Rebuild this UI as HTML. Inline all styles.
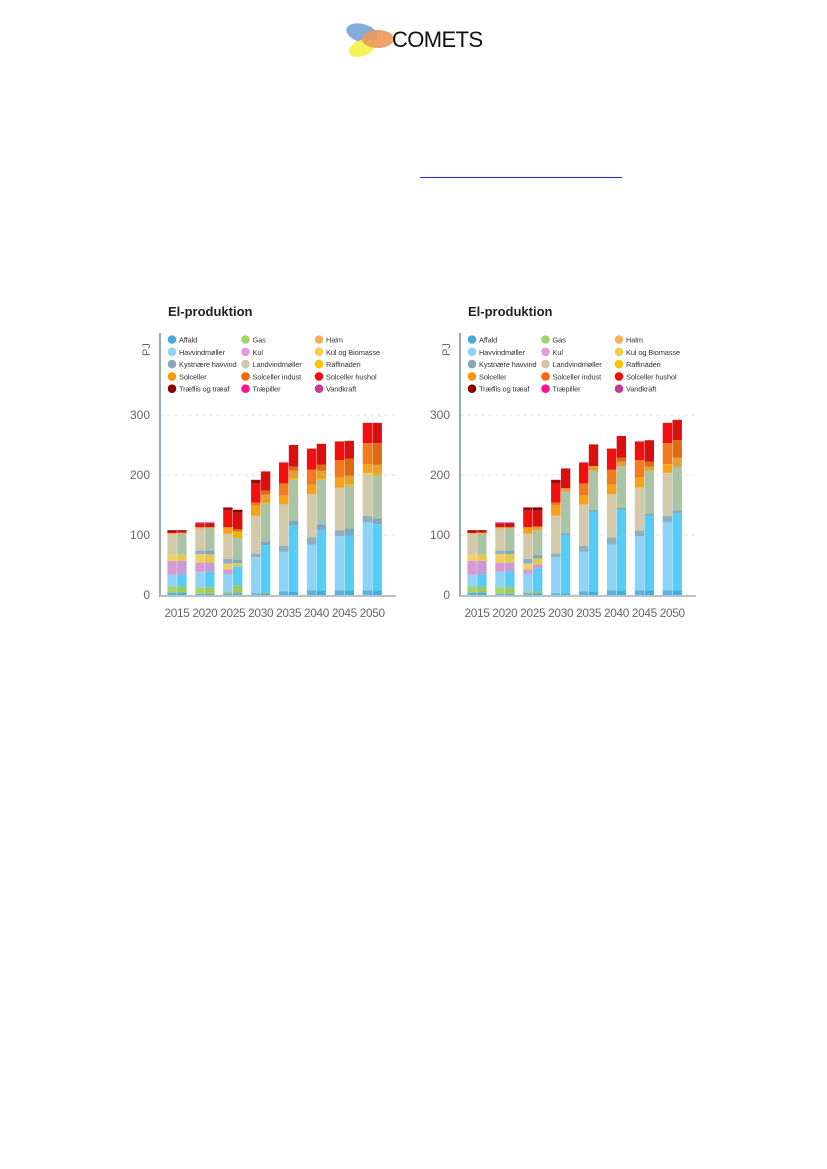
<!DOCTYPE html>
<html><head><meta charset="utf-8"><style>
body{margin:0;background:#fff;width:827px;height:1169px;position:relative;overflow:hidden;font-family:"Liberation Sans",sans-serif}
</style></head><body>
<div style="position:absolute;left:340px;top:20px;width:160px;height:40px">
<svg width="160" height="40"><ellipse cx="22" cy="13" rx="16" ry="9" fill="#6f9fd6" opacity="0.85" transform="rotate(15 22 13)"/><ellipse cx="22" cy="28" rx="14" ry="8" fill="#f4f24a" opacity="0.9" transform="rotate(-20 22 28)"/><ellipse cx="38" cy="19" rx="16" ry="9" fill="#ea9a5a" opacity="0.9"/></svg>
<span style="position:absolute;left:52px;top:7px;font-size:22px;color:#111;font-family:'Liberation Sans',sans-serif;letter-spacing:-0.6px">COMETS</span></div>
<div style="position:absolute;left:420px;top:177px;width:202px;height:1px;background:#2222ff"></div>
<svg id="s" width="827" height="1169" style="position:absolute;left:0;top:0"></svg>
<script>
const years=["2015","2020","2025","2030","2035","2040","2045","2050"];
const yTicks=[0,100,200,300];
const legendNames=["Affald","Gas","Halm","Havvindmøller","Kul","Kul og Biomasse","Kystnære havvind","Landvindmøller","Raffinaderi","Solceller","Solceller indust","Solceller hushol","Træflis og træaf","Træpiller","Vandkraft"];
const legendColors=["#4aa8e0","#a8d26a","#f3b25a","#8fd3f7","#e39ad8","#f2cf4a","#8aa9b8","#cfc6ab","#f8c400","#f79a0a","#f4680a","#f00d0d","#8b0000","#ff1493","#c83a9a"];
const cats=["affald","gas","havvind","kul","kulbio","kyst","landvind","raff","sol","indust","hushol","traeflis","traepiller"];
const colA=["#5ab4e0","#a8d26a","#8fd3f7","#d89ad2","#f0d060","#8fb0c0","#d4c9a8","#f6c800","#f7a21b","#f47a20","#f01010","#9b0d0d","#ff1493"];
const colB=["#3fb0e0","#9cc95a","#55cdf7","#c49ad8","#e6c84a","#7fa8bc","#a9c5a5","#e8b800","#e6a030","#e06a10","#d81010","#8b0000","#f0108a"];
// chart 1 left bars
const c1L_affald=[4,2,3,3,6,8,8,8],c1L_gas=[10,11,3,0,0,0,0,0],c1L_havvind=[20,26,29,60,66,76,90,113],c1L_kul=[23,15,8,0,0,0,0,0],c1L_kulbio=[10,14,9,0,0,0,0,0],c1L_kyst=[0,6,8,6,10,12,10,11],c1L_landvind=[35,37,42,63,69,72,71,71],c1L_raff=[0,0,0,0,0,0,0,1],c1L_sol=[1,2,11,17,15,16,17,14],c1L_indust=[0,0,0,5,20,25,29,35],c1L_hushol=[2,4,28,32,35,35,31,34],c1L_traeflis=[3,2,5,6,0,0,0,0],c1L_traepiller=[0,2,0,0,0,0,0,0];
// chart 1 right bars
const c1R_affald=[4,2,3,3,5,8,8,8],c1R_gas=[10,11,13,2,0,0,0,0],c1R_havvind=[20,26,32,78,111,100,92,110],c1R_kul=[23,15,0,0,0,0,0,0],c1R_kulbio=[10,14,5,0,0,0,0,0],c1R_kyst=[0,6,6,6,8,10,11,10],c1R_landvind=[35,37,36,63,68,74,71,71],c1R_raff=[0,0,11,2,2,3,3,3],c1R_sol=[2,2,0,13,13,12,14,15],c1R_indust=[0,0,4,7,7,10,28,36],c1R_hushol=[2,4,27,32,36,35,30,34],c1R_traeflis=[2,2,5,0,0,0,0,0],c1R_traepiller=[0,2,0,0,0,0,0,0];
// chart 2 right bars (left bars same as chart 1)
const c2R_affald=[4,2,3,3,5,8,8,8],c2R_gas=[10,11,3,0,0,0,0,0],c2R_havvind=[20,26,38,97,134,134,124,128],c2R_kul=[23,15,7,0,0,0,0,0],c2R_kulbio=[10,14,10,0,0,0,0,0],c2R_kyst=[0,6,6,3,3,3,3,5],c2R_landvind=[35,37,41,69,65,70,72,73],c2R_raff=[0,0,0,0,0,0,0,0],c2R_sol=[2,2,6,6,8,7,7,15],c2R_indust=[0,0,0,0,0,7,8,29],c2R_hushol=[2,4,27,33,36,36,36,34],c2R_traeflis=[2,2,5,0,0,0,0,0],c2R_traepiller=[0,2,0,0,0,0,0,0];
const c1L=[c1L_affald,c1L_gas,c1L_havvind,c1L_kul,c1L_kulbio,c1L_kyst,c1L_landvind,c1L_raff,c1L_sol,c1L_indust,c1L_hushol,c1L_traeflis,c1L_traepiller];
const c1R=[c1R_affald,c1R_gas,c1R_havvind,c1R_kul,c1R_kulbio,c1R_kyst,c1R_landvind,c1R_raff,c1R_sol,c1R_indust,c1R_hushol,c1R_traeflis,c1R_traepiller];
const c2R=[c2R_affald,c2R_gas,c2R_havvind,c2R_kul,c2R_kulbio,c2R_kyst,c2R_landvind,c2R_raff,c2R_sol,c2R_indust,c2R_hushol,c2R_traeflis,c2R_traepiller];
const S=document.getElementById('s'),NS="http://www.w3.org/2000/svg";
function mk(t,a,p){const e=document.createElementNS(NS,t);for(const k in a)e.setAttribute(k,a[k]);(p||S).appendChild(e);return e;}
function chart(dx,L,R,idx){
 const g=mk('g',{});
 
 
 const y0=595,k=0.6,ax=160+dx;
 const yS=v=>y0-v*k, xC=i=>177+dx+i*27.9;
 const t=mk('text',{x:168+dx,y:316,'font-size':13,'font-weight':'bold',fill:'#222'},g);t.textContent='El-produktion';
 
 
 yTicks.forEach(v=>{
  if(v>0){const gl=mk('line',{x1:ax,x2:ax+236,y1:yS(v),y2:yS(v),stroke:'#e4e4e4','stroke-dasharray':'4,3'},g);
  
  }
  const tl=mk('text',{x:ax-10,y:yS(v)+4,'font-size':12,fill:'#666','text-anchor':'end'},g);tl.textContent=v;
  
  
 });
 const pj=mk('text',{x:0,y:0,'font-size':11,fill:'#666',transform:`translate(${ax-10},356) rotate(-90)`},g);pj.textContent='PJ';
 
 
 years.forEach((yr,i)=>{
  [[L,colA,-9.6],[R,colB,0.2]].forEach(([D,C,off],b)=>{
   let acc=0;
   D.forEach((arr,c)=>{const v=arr[i];if(!v)return;
    const r=mk('rect',{x:xC(i)+off,y:yS(acc+v),width:9.4,height:v*k,fill:C[c]},g);
    
    
    acc+=v;});
  });
  const xl=mk('text',{x:xC(i),y:617,'font-size':11.8,fill:'#666','text-anchor':'middle','letter-spacing':'-0.3'},g);xl.textContent=yr;
  
  
 });
 const a=mk('line',{x1:ax,x2:ax,y1:333,y2:597,stroke:'#9aabb6','stroke-width':2},g);
 
 
 const b=mk('line',{x1:ax,x2:ax+236,y1:596,y2:596,stroke:'#b8c2c8','stroke-width':2},g);
 
 
 legendNames.forEach((n,j)=>{
  const col=j%3,row=Math.floor(j/3),lx=172+dx+col*73.5,ly=339.5+row*12.3;
  const cc=mk('circle',{cx:lx,cy:ly,r:4.3,fill:legendColors[j]},g);
  
  
  const lt=mk('text',{x:lx+7,y:ly+3,'font-size':7.4,fill:'#333','letter-spacing':'-0.1'},g);lt.textContent=n;
  
  
 });
}
chart(0,c1L,c1R,1);
chart(300,c1L,c2R,2);
</script>
</body></html>
